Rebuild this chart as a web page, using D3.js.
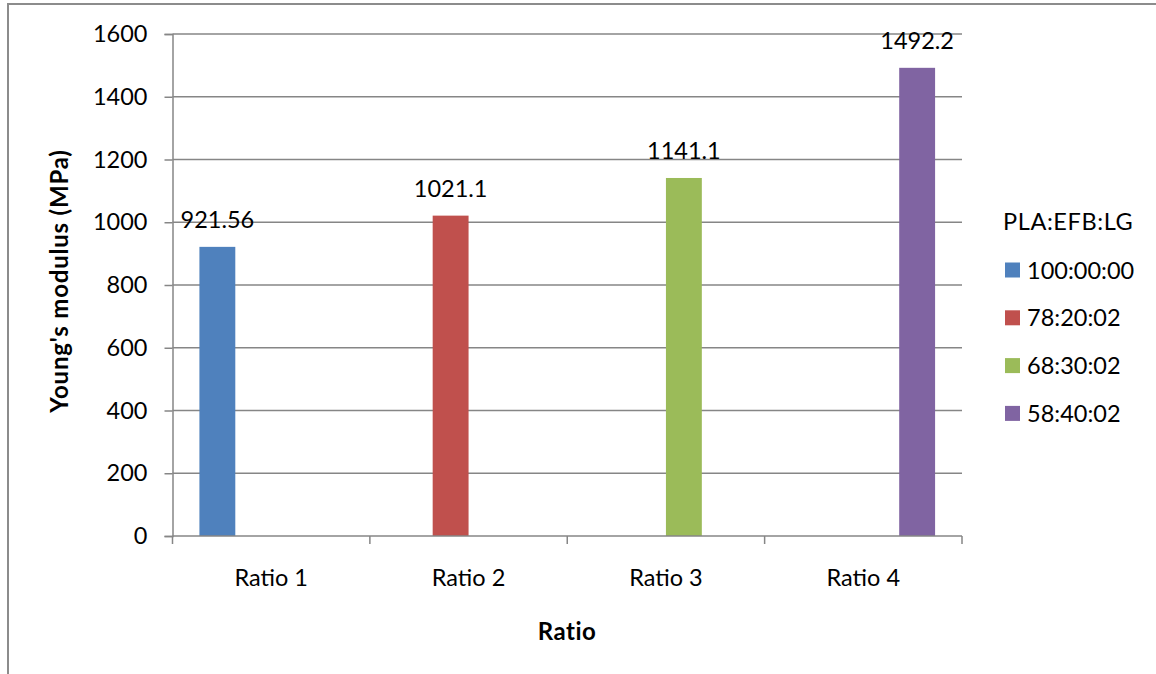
<!DOCTYPE html>
<html>
<head>
<meta charset="utf-8">
<script src="https://cdn.jsdelivr.net/npm/d3@7"></script>
<style>
  html, body { margin: 0; padding: 0; background: #fff; }
  svg { display: block; font-family: Lato, "Open Sans", sans-serif; }
</style>
</head>
<body>
<svg id="chart" width="1156" height="674"></svg>
<script>
// Categories on the x axis
const categories = ["Ratio 1", "Ratio 2", "Ratio 3", "Ratio 4"];
// Composition series (PLA:EFB:LG)
const seriesNames = ["100:00:00", "78:20:02", "68:30:02", "58:40:02"];
const seriesColors = ["#4f81bd", "#c0504d", "#9bbb59", "#8064a2"];
// Young's modulus per series, one value per category (null where not measured)
const series1 = [921.56, null, null, null];
const series2 = [null, 1021.1, null, null];
const series3 = [null, null, 1141.1, null];
const series4 = [null, null, null, 1492.2];
const seriesValues = [series1, series2, series3, series4];
const yTicks = [0, 200, 400, 600, 800, 1000, 1200, 1400, 1600];

const svg = d3.select("#chart");
const gridColor = "#868686";
const fs = 23.5;

// outer chart frame
svg.append("rect")
  .attr("x", 8).attr("y", 4)
  .attr("width", 1200).attr("height", 720)
  .attr("fill", "none").attr("stroke", "#8c8c8c").attr("stroke-width", 2);

const plot = { left: 172.5, right: 962, top: 34, bottom: 536 };

const x = d3.scaleBand().domain(categories).range([plot.left, plot.right]).padding(0);
const y = d3.scaleLinear().domain([0, 1600]).range([plot.bottom, plot.top]);

// bars within a category: width = band / (n + gap), gap 150%
const gap = 1.5;
const barW = x.bandwidth() / (seriesNames.length + gap);
const xs = d3.scaleBand().domain(seriesNames)
  .range([barW * gap / 2, barW * gap / 2 + barW * seriesNames.length]).padding(0);

// horizontal gridlines
svg.append("g").selectAll("line").data(yTicks.slice(1)).join("line")
  .attr("x1", plot.left).attr("x2", plot.right)
  .attr("y1", d => y(d)).attr("y2", d => y(d))
  .attr("stroke", gridColor).attr("stroke-width", 1.5);

// y axis
const yAxis = d3.axisLeft(y).tickValues(yTicks).tickSize(8).tickPadding(17).tickFormat(d3.format("d"));
const gy = svg.append("g").attr("transform", `translate(${plot.left},0)`).call(yAxis);
gy.select(".domain").attr("stroke", gridColor).attr("stroke-width", 1.5);
gy.selectAll(".tick line").attr("stroke", gridColor).attr("stroke-width", 1.5);
gy.selectAll(".tick text").attr("font-size", fs).attr("fill", "#000")
  .attr("font-family", "Lato, sans-serif");

// bars
seriesNames.forEach((name, si) => {
  const data = categories.map((c, ci) => ({ c, v: seriesValues[si][ci] })).filter(d => d.v != null);
  svg.append("g").selectAll("rect").data(data).join("rect")
    .attr("x", d => x(d.c) + xs(name))
    .attr("width", xs.bandwidth())
    .attr("y", d => y(d.v))
    .attr("height", d => y(0) - y(d.v))
    .attr("fill", seriesColors[si]);
  svg.append("g").selectAll("text").data(data).join("text")
    .attr("x", d => x(d.c) + xs(name) + xs.bandwidth() / 2)
    .attr("y", d => y(d.v) - 19)
    .attr("text-anchor", "middle")
    .attr("font-size", fs)
    .attr("fill", "#000")
    .text(d => d.v);
});

// x axis (category boundaries as ticks)
const gx = svg.append("g").attr("transform", `translate(0,${plot.bottom})`);
gx.append("line").attr("x1", plot.left).attr("x2", plot.right)
  .attr("stroke", gridColor).attr("stroke-width", 1.5);
const bounds = categories.map(c => x(c)).concat([plot.right]);
gx.selectAll("line.tk").data(bounds).join("line").attr("class", "tk")
  .attr("x1", d => d).attr("x2", d => d).attr("y1", 0).attr("y2", 8)
  .attr("stroke", gridColor).attr("stroke-width", 1.5);
gx.selectAll("text").data(categories).join("text")
  .attr("x", d => x(d) + x.bandwidth() / 2)
  .attr("y", 50)
  .attr("text-anchor", "middle")
  .attr("font-size", fs)
  .text(d => d);

// axis titles
svg.append("text")
  .attr("transform", `translate(68,281) rotate(-90)`)
  .attr("text-anchor", "middle")
  .attr("font-size", 24).attr("font-weight", "bold").attr("letter-spacing", 0.8)
  .text("Young's modulus (MPa)");
svg.append("text")
  .attr("x", 567).attr("y", 640)
  .attr("text-anchor", "middle")
  .attr("font-size", 24).attr("font-weight", "bold").attr("letter-spacing", 0.5)
  .text("Ratio");

// legend
const legend = svg.append("g").attr("transform", "translate(1003,0)");
legend.append("text").attr("x", 0).attr("y", 230).attr("font-size", fs).attr("letter-spacing", 0.6).text("PLA:EFB:LG");
const items = legend.selectAll("g.item").data(seriesNames).join("g").attr("class", "item")
  .attr("transform", (d, i) => `translate(0,${270 + i * 47.8})`);
items.append("rect").attr("x", 2).attr("y", -7.5).attr("width", 15).attr("height", 15)
  .attr("fill", (d, i) => seriesColors[i]);
items.append("text").attr("x", 24).attr("y", 8.5).attr("font-size", fs).text(d => d);
</script>
</body>
</html>
